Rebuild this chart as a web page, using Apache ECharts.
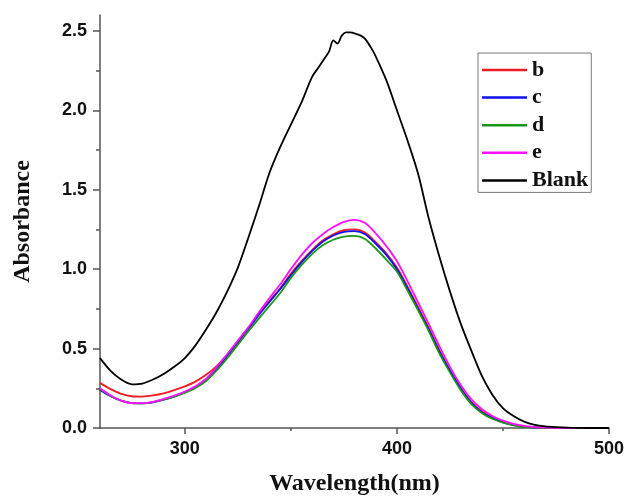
<!DOCTYPE html>
<html>
<head>
<meta charset="utf-8">
<script src="https://cdn.jsdelivr.net/npm/echarts@6/dist/echarts.min.js"></script>
<style>
  html, body { margin: 0; padding: 0; background: #fff; }
  #chart { width: 627px; height: 501px; }
</style>
</head>
<body>
<div id="chart"></div>
<script>
// UV-Vis absorbance spectra (wavelength in nm)
const wavelengths = [260,265,270,275,280,285,290,295,300,305,310,315,320,325,330,335,340,345,350,355,360,365,370,375,380,385,390,395,400,405,410,415,420,425,430,435,440,445,450,455,460,465,470,475,480,485,490,495,500];

const seriesB = [0.284,0.245,0.215,0.2,0.198,0.205,0.218,0.238,0.262,
  0.292,0.335,0.39,0.46,0.545,0.63,0.72,0.80,0.88,0.97,
  1.05,1.12,1.18,1.22,1.245,1.25,1.23,1.17,1.10,1.01,
  0.89,0.76,0.63,0.49,0.365,0.255,0.165,0.105,0.065,0.038,
  0.02,0.009,0.004,0.001,0,0,0,0,0,0];

const seriesC = [0.24,0.20,0.172,0.157,0.155,0.162,0.178,0.198,0.224,
  0.257,0.303,0.372,0.452,0.538,0.623,0.713,0.795,0.875,0.962,
  1.043,1.113,1.172,1.212,1.235,1.24,1.22,1.16,1.09,1.00,
  0.88,0.75,0.62,0.48,0.36,0.25,0.16,0.10,0.062,0.036,
  0.019,0.008,0.003,0.001,0,0,0,0,0,0];

const seriesD = [0.245,0.202,0.172,0.156,0.155,0.163,0.178,0.197,0.222,
  0.252,0.296,0.362,0.44,0.525,0.61,0.69,0.77,0.85,0.945,
  1.025,1.095,1.15,1.185,1.205,1.21,1.19,1.13,1.06,0.985,
  0.865,0.74,0.61,0.47,0.35,0.24,0.152,0.095,0.058,0.034,
  0.017,0.007,0.003,0.001,0,0,0,0,0,0];

const seriesE = [0.25,0.205,0.172,0.156,0.156,0.165,0.183,0.204,0.23,
  0.263,0.31,0.383,0.465,0.55,0.635,0.73,0.82,0.905,1.0,
  1.088,1.163,1.22,1.265,1.298,1.31,1.29,1.225,1.145,1.05,
  0.925,0.79,0.655,0.515,0.385,0.272,0.182,0.12,0.076,0.046,
  0.026,0.013,0.006,0.002,0.001,0,0,0,0,0,0];

// Blank spectrum is sampled more finely around its noisy maximum
const blankWavelengths = [260,265,270,275,280,285,290,295,300,305,310,315,320,325,330,335,340,345,350,355,360,363,366,368,370,372,374,376,378,380,383,385,388,390,395,400,405,410,415,420,425,430,435,440,445,450,455,460,465,470,475,480,490,500];
const seriesBlank = [0.44,0.36,0.305,0.275,0.28,0.305,0.34,0.385,0.44,0.52,0.62,0.73,0.86,1.01,1.20,1.40,1.61,1.77,1.91,2.05,2.21,2.27,2.33,2.37,2.44,2.42,2.47,2.49,2.49,2.485,2.47,2.45,2.39,2.34,2.19,2.00,1.81,1.60,1.32,1.08,0.86,0.66,0.49,0.33,0.21,0.125,0.075,0.04,0.02,0.01,0.005,0.002,0.0,0.0];

const xLabelValues = [300, 400, 500];
const xMinorValues = [350, 450];
const yLabelValues = [0, 0.5, 1.0, 1.5, 2.0, 2.5];
const yMinorValues = [0.25, 0.75, 1.25, 1.75, 2.25];

const names = ['b', 'c', 'd', 'e', 'Blank'];
const colors = ['#ee1c24', '#1010f0', '#1a961a', '#ff10ff', '#000000'];

function pairs(xs, ys) { return xs.map((x, i) => [x, ys[i]]); }

const seriesData = [
  pairs(wavelengths, seriesB),
  pairs(wavelengths, seriesC),
  pairs(wavelengths, seriesD),
  pairs(wavelengths, seriesE),
  pairs(blankWavelengths, seriesBlank)
];

const axisColor = '#555';
const tickFont = { fontFamily: 'Liberation Sans', fontWeight: 'bold', fontSize: 18, color: '#111' };
const titleFont = { fontFamily: 'Liberation Serif', fontWeight: 'bold', fontSize: 24, color: '#111' };

const chart = echarts.init(document.getElementById('chart'), null, { renderer: 'canvas' });

chart.setOption({
  animation: false,
  backgroundColor: '#fff',
  color: colors,
  grid: { left: 100, right: 18, top: 15, bottom: 71, containLabel: false },
  legend: {
    orient: 'vertical',
    left: 478,
    top: 53,
    data: names,
    icon: 'rect',
    itemWidth: 45,
    itemHeight: 2.5,
    itemGap: 5.6,
    padding: [6, 3, 1, 4],
    borderColor: '#777',
    borderWidth: 1,
    textStyle: { fontFamily: 'Liberation Serif', fontWeight: 'bold', fontSize: 22, color: '#111', lineHeight: 22 }
  },
  xAxis: [
    {
      type: 'value', min: 260, max: 500,
      name: 'Wavelength(nm)', nameLocation: 'middle', nameGap: 44,
      nameTextStyle: titleFont,
      axisLine: { show: true, lineStyle: { color: axisColor, width: 1.5 } },
      axisTick: { show: true, inside: false, length: 6, customValues: xLabelValues, lineStyle: { color: axisColor, width: 1.5 } },
      axisLabel: Object.assign({ margin: 12, customValues: xLabelValues, formatter: v => String(v) }, tickFont),
      splitLine: { show: false }
    },
    {
      type: 'value', min: 260, max: 500, position: 'bottom',
      axisLine: { show: false },
      axisTick: { show: true, length: 3, customValues: xMinorValues, lineStyle: { color: axisColor, width: 1.5 } },
      axisLabel: { show: false },
      splitLine: { show: false }
    }
  ],
  yAxis: [
    {
      type: 'value', min: 0, max: 2.6,
      name: 'Absorbance', nameLocation: 'middle', nameGap: 65, nameRotate: 90,
      nameTextStyle: titleFont,
      axisLine: { show: true, lineStyle: { color: axisColor, width: 1.5 } },
      axisTick: { show: true, inside: false, length: 7, customValues: yLabelValues, lineStyle: { color: axisColor, width: 1.5 } },
      axisLabel: Object.assign({ margin: 13, customValues: yLabelValues, formatter: v => v.toFixed(1) }, tickFont),
      splitLine: { show: false }
    },
    {
      type: 'value', min: 0, max: 2.6, position: 'left',
      axisLine: { show: false },
      axisTick: { show: true, length: 4, customValues: yMinorValues, lineStyle: { color: axisColor, width: 1.5 } },
      axisLabel: { show: false },
      splitLine: { show: false }
    }
  ],
  series: names.map((n, i) => ({
    name: n,
    type: 'line',
    xAxisIndex: 0,
    yAxisIndex: 0,
    data: seriesData[i],
    symbol: 'none',
    smooth: 0.3,
    lineStyle: { width: 1.8, color: colors[i] },
    itemStyle: { color: colors[i] }
  }))
});
</script>
</body>
</html>
